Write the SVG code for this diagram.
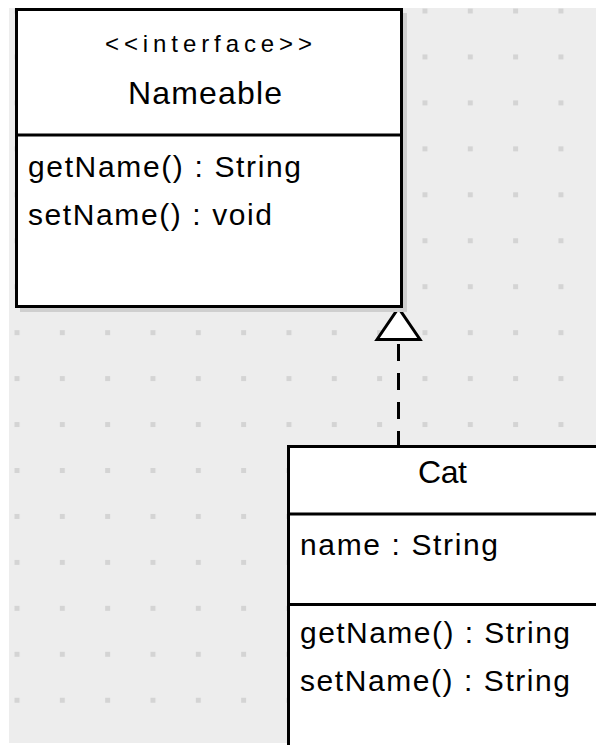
<svg xmlns="http://www.w3.org/2000/svg" width="596" height="745" viewBox="0 0 596 745">
  <style>
    .box { fill: #ffffff; stroke: #000000; stroke-width: 3; }
    .shadow { fill: #cfcfcf; }
    .div { stroke: #000000; stroke-width: 3; }
    .t { font-family: "Liberation Sans", Arial, sans-serif; fill: #000000; }
    .small { font-size: 24px; }
    .title { font-size: 32px; }
    .member { font-size: 30px; }
    .conn { fill: none; stroke: #000000; stroke-width: 3; stroke-dasharray: 17 12; }
  </style>
  <defs>
    <pattern id="grid" patternUnits="userSpaceOnUse" x="14.5" y="8.5" width="45.33" height="45.95">
      <rect x="0" y="0" width="5" height="5" fill="#d4d4d4"/>
    </pattern>
    <marker id="realize" markerUnits="userSpaceOnUse" orient="auto" refX="0" refY="0" markerWidth="40" markerHeight="50" overflow="visible">
      <path d="M0,-21.5 L31.5,0 L0,21.5 Z" fill="#ffffff" stroke="#000000" stroke-width="3" stroke-dasharray="none" stroke-linejoin="miter"/>
    </marker>
  </defs>

  <rect x="0" y="0" width="596" height="745" fill="#ffffff"/>
  <rect x="9" y="8" width="587" height="735" fill="#ededed"/>
  <rect x="9" y="8" width="587" height="735" fill="url(#grid)"/>

  <g id="connectors">
    <path class="conn" d="M398.5,448 L398.5,339.5" marker-end="url(#realize)"/>
  </g>

  <g id="Nameable">
    <rect class="shadow" x="20" y="13" width="387" height="299"/>
    <rect class="box" x="16.5" y="9.5" width="385" height="297"/>
    <line class="div" x1="16.5" y1="135" x2="401.5" y2="135"/>
    <text class="t small" x="105" y="52" textLength="207" lengthAdjust="spacing">&lt;&lt;interface&gt;&gt;</text>
    <text class="t title" x="128" y="104" textLength="154" lengthAdjust="spacing">Nameable</text>
    <text class="t member" x="28" y="177" textLength="273" lengthAdjust="spacing">getName() : String</text>
    <text class="t member" x="28" y="225" textLength="244" lengthAdjust="spacing">setName() : void</text>
  </g>

  <g id="Cat">
    <rect class="box" x="288.5" y="446.5" width="400" height="400"/>
    <line class="div" x1="288.5" y1="514" x2="688.5" y2="514"/>
    <line class="div" x1="288.5" y1="604.5" x2="688.5" y2="604.5"/>
    <text class="t title" x="418" y="483" textLength="49" lengthAdjust="spacing">Cat</text>
    <text class="t member" x="300" y="555" textLength="198" lengthAdjust="spacing">name : String</text>
    <text class="t member" x="300" y="643" textLength="270" lengthAdjust="spacing">getName() : String</text>
    <text class="t member" x="300" y="691" textLength="270" lengthAdjust="spacing">setName() : String</text>
  </g>
</svg>
